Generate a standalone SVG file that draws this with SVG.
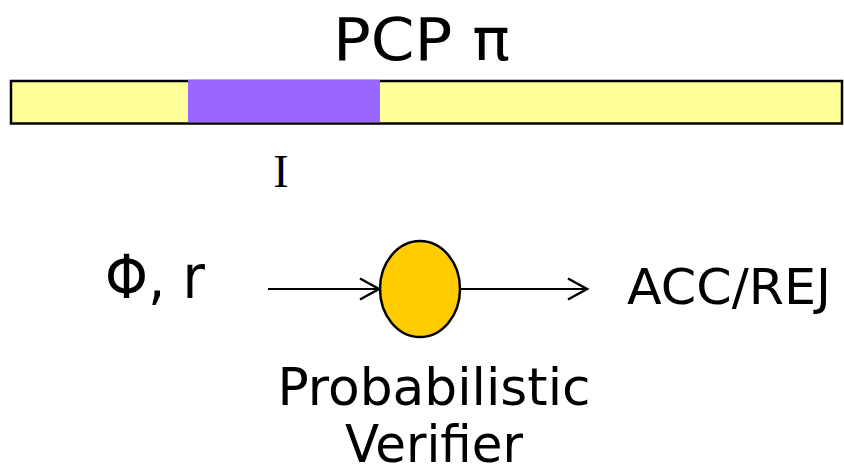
<svg xmlns="http://www.w3.org/2000/svg" width="844" height="470" viewBox="0 0 844 470">
<style>
.t{font-family:"DejaVu Sans","Verdana",sans-serif;fill:#000}
.c{stroke:#000;stroke-width:2;fill:none}
</style>
<defs>
<marker id="ah" markerWidth="24" markerHeight="26" refX="21" refY="12" orient="auto" markerUnits="userSpaceOnUse">
<path d="M2,1.5 L21,12 L2,22.5" fill="none" stroke="#000" stroke-width="2.5"/>
</marker>
</defs>
<rect width="844" height="470" fill="#fff"/>
<g id="title"><text class="t" x="333" y="60" font-size="59" textLength="177" lengthAdjust="spacingAndGlyphs">PCP π</text></g>
<g id="proof">
<rect x="11" y="81" width="831" height="42.5" fill="#FFFF99" stroke="#000" stroke-width="2.5"/>
<rect x="188" y="79.8" width="192" height="42.5" fill="#9966FF"/>
</g>
<g id="label-I"><text x="281" y="187" font-family="'Liberation Serif','DejaVu Serif',serif" font-size="46" text-anchor="middle">I</text></g>
<g id="input"><text class="t" x="105" y="298" font-size="60" textLength="100" lengthAdjust="spacingAndGlyphs">Φ, r</text></g>
<g id="verifier">
<ellipse cx="420" cy="289" rx="40" ry="48" fill="#FFCC00" stroke="#000" stroke-width="2.5"/>
<text class="t" x="434" y="405" font-size="52" text-anchor="middle" textLength="313" lengthAdjust="spacingAndGlyphs">Probabilistic</text>
<text class="t" x="434" y="462" font-size="52" text-anchor="middle" textLength="178" lengthAdjust="spacingAndGlyphs">Verifier</text>
</g>
<g id="output"><text class="t" x="627" y="304" font-size="49" textLength="204" lengthAdjust="spacingAndGlyphs">ACC/REJ</text></g>
<g id="connectors">
<line class="c" x1="268" y1="289" x2="379" y2="289" marker-end="url(#ah)"/>
<line class="c" x1="460" y1="289" x2="587" y2="289" marker-end="url(#ah)"/>
</g>
</svg>
